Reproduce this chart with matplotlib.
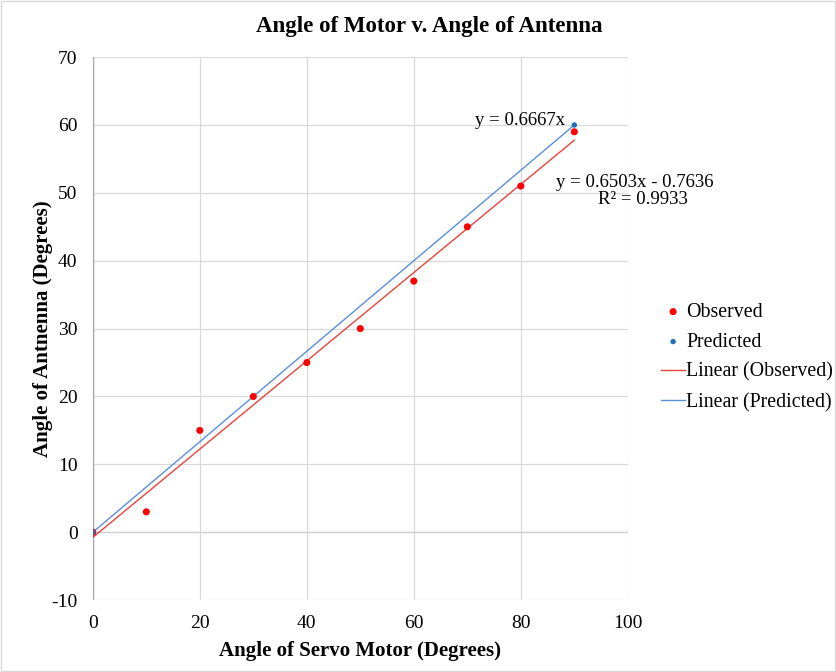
import matplotlib

matplotlib.use("Agg")
import matplotlib.pyplot as plt
import numpy as np

plt.rcParams["font.family"] = ["Liberation Serif", "DejaVu Serif"]
plt.rcParams["axes.unicode_minus"] = False

motor_obs = [0, 10, 20, 30, 40, 50, 60, 70, 80, 90]
antenna_obs = [0, 3, 15, 20, 25, 30, 37, 45, 51, 59]
motor_pred = [0, 90]
antenna_pred = [0, 60]

x_ticks = [0, 20, 40, 60, 80, 100]
y_ticks = [-10, 0, 10, 20, 30, 40, 50, 60, 70]

fig = plt.figure(figsize=(8.36, 6.72), dpi=100)
fig.patches.append(plt.Rectangle((0.001, 0.001), 0.998, 0.998, transform=fig.transFigure,
                                 fill=False, edgecolor="#d9d9d9", linewidth=1))
ax = fig.add_axes([0.111, 0.107, 0.640, 0.808])

# trend lines
slope, icpt = np.polyfit(motor_obs, antenna_obs, 1)
r2 = np.corrcoef(motor_obs, antenna_obs)[0, 1] ** 2
xp = np.array(motor_pred, dtype=float)
slope_p = np.sum(xp * np.array(antenna_pred)) / np.sum(xp * xp)
xline = np.array([min(motor_obs), max(motor_obs)], dtype=float)

ax.plot(xline, slope * xline + icpt, color="#e8433d", linewidth=1.0, label="Linear (Observed)", zorder=3)
ax.plot(xline, slope_p * xline, color="#5b8fd9", linewidth=1.0, label="Linear (Predicted)", zorder=3)
ax.scatter(motor_obs, antenna_obs, s=26, color="#ff0000", edgecolors="none", label="Observed", zorder=4)
ax.scatter(motor_pred, antenna_pred, s=15, color="#1f6fb8", edgecolors="none", label="Predicted", zorder=5)

ax.set_xlim(0, 100); ax.set_ylim(-10, 70)
ax.set_xticks(x_ticks); ax.set_yticks(y_ticks)
ax.grid(True, color="#d9d9d9", linewidth=0.9)
ax.axhline(0, color="#d0d0d0", linewidth=0.9, zorder=1)
ax.axvline(0, color="#a6a6a6", linewidth=1.0, zorder=2)
for s in ax.spines.values():
    s.set_visible(False)
ax.tick_params(length=0, labelsize=14)
ax.tick_params(axis="y", pad=11)
ax.tick_params(axis="x", pad=11)
ax.set_axisbelow(True)

ax.text(88.2, 60.6, "y = 0.6667x", fontsize=13.5, ha="right", va="center")
ax.text(86.5, 51.5, f"y = {slope:.4f}x - {abs(icpt):.4f}", fontsize=13.5, ha="left", va="center")
ax.text(94.4, 49.0, f"R² = {r2:.4f}", fontsize=13.5, ha="left", va="center")

fig.text(0.514, 0.961, "Angle of Motor v. Angle of Antenna", fontsize=16.5, fontweight="bold",
         ha="center", va="center")
ax.set_xlabel("Angle of Servo Motor (Degrees)", fontsize=15, fontweight="bold", labelpad=6)
ax.set_ylabel("Angle of Antnenna (Degrees)", fontsize=15, fontweight="bold", labelpad=-1)

h, l = ax.get_legend_handles_labels()
order = [2, 3, 0, 1]
ax.legend([h[i] for i in order], [l[i] for i in order], loc="center left",
          bbox_to_anchor=(0.779, 0.468), bbox_transform=fig.transFigure, frameon=False,
          fontsize=14.3, handlelength=1.2, handletextpad=0.05, labelspacing=0.55, borderpad=0)

fig.savefig("out.png", dpi=100)
